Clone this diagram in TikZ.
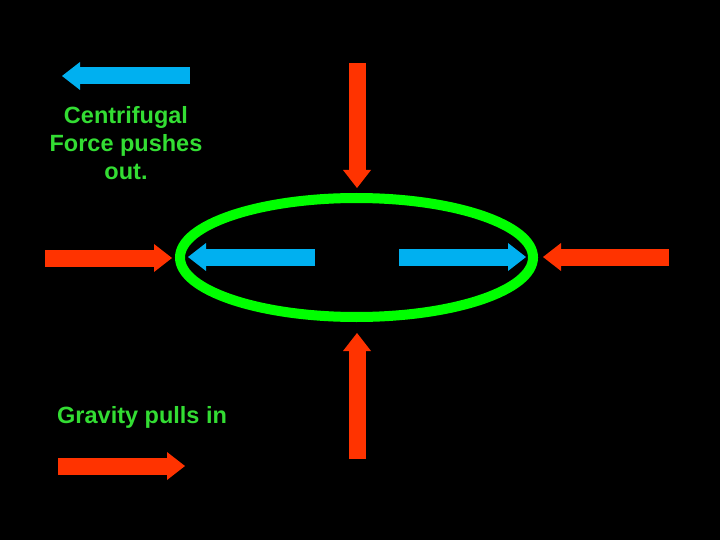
\documentclass[tikz,border=0pt]{standalone}
\usepackage{fontspec}
\setmainfont{Liberation Sans}
\usetikzlibrary{arrows.meta,shapes.geometric}
\definecolor{fred}{RGB}{255,51,0}
\definecolor{fblue}{RGB}{0,176,240}
\definecolor{fgreen}{RGB}{0,255,0}
\definecolor{tgreen}{RGB}{51,221,51}
\tikzset{
  forcearrow/.style={line width=17pt, -{Triangle[width=28pt,length=18pt,line width=0pt]}},
  gravity/.style={forcearrow, draw=fred},
  centrif/.style={forcearrow, draw=fblue},
  label/.style={text=tgreen, font=\bfseries\fontsize{23.5pt}{28.2pt}\selectfont, inner sep=0pt}
}
\begin{document}
\begin{tikzpicture}[x=1pt,y=-1pt]
\useasboundingbox[fill=black] (0,0) rectangle (720,540);
% coordinates
\coordinate (kb1) at (190,76);  \coordinate (kb2) at (62,76);
\coordinate (kr1) at (58,466);  \coordinate (kr2) at (185,466);
\coordinate (lr1) at (45,258);  \coordinate (lr2) at (172,258);
\coordinate (rr1) at (669,257); \coordinate (rr2) at (543,257);
\coordinate (tr1) at (357,63);  \coordinate (tr2) at (357,188);
\coordinate (br1) at (357,459); \coordinate (br2) at (357,333);
\coordinate (lb1) at (315,257); \coordinate (lb2) at (188,257);
\coordinate (rb1) at (399,257); \coordinate (rb2) at (526,257);
% orbit
\node[draw=fgreen, line width=10pt, ellipse, minimum width=353pt, minimum height=119pt, inner sep=0pt] (orbit) at (356.5,257.5) {};
% arrows
\draw[centrif] (kb1) -- (kb2);
\draw[gravity] (kr1) -- (kr2);
\draw[gravity] (lr1) -- (lr2);
\draw[gravity] (rr1) -- (rr2);
\draw[gravity] (tr1) -- (tr2);
\draw[gravity] (br1) -- (br2);
\draw[centrif] (lb1) -- (lb2);
\draw[centrif] (rb1) -- (rb2);
% texts
\node[label, align=center, anchor=base] (ctext) at (126,179.5) {Centrifugal\\Force pushes\\out.};
\node[label, anchor=base west] (gtext) at (57,423) {Gravity pulls in};
\end{tikzpicture}
\end{document}
